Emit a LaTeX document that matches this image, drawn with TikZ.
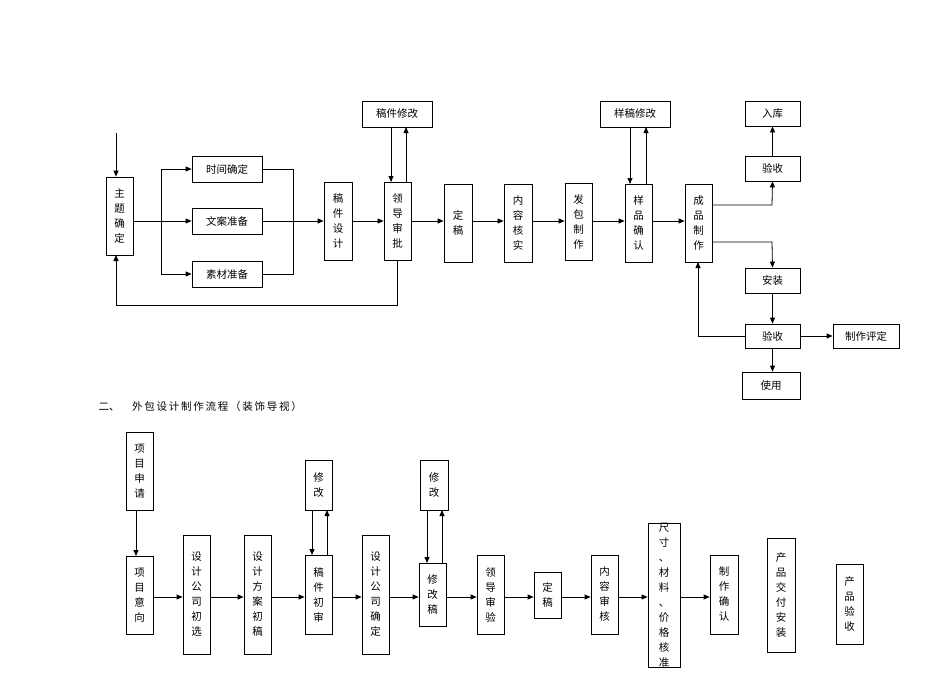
\documentclass[tikz,border=0pt]{standalone}
\usepackage{fontspec}
\setmainfont{Noto Sans CJK SC}
\usetikzlibrary{arrows.meta}
\newcommand{\bx}[6]{\node[box,minimum width={(#4-#2)*1pt},minimum height={(#5-#3)*1pt}] (#1) at ({(#2+#4)/2},{(#3+#5)/2}) {#6};}
\begin{document}
\begin{tikzpicture}[x=1pt,y=-1pt,
  box/.style={draw,line width=0.8pt,inner sep=0pt,align=center,font=\fontsize{10.5}{15}\selectfont},
  ar/.style={-{Triangle[length=6pt,width=5pt]},line width=0.8pt},
  ln/.style={line width=0.8pt}]
\useasboundingbox (0,0) rectangle (950,672);
% top
\bx{zt}{106}{177}{133}{255}{主\\题\\确\\定}
\bx{sj}{192}{156}{262}{182}{时间确定}
\bx{wa}{192}{208}{262}{234}{文案准备}
\bx{sc}{192}{261}{262}{287}{素材准备}
\bx{gjsj}{324}{182}{352}{260}{稿\\件\\设\\计}
\bx{ld}{384}{182}{411}{260}{领\\导\\审\\批}
\bx{gjxg}{362}{101}{432}{127}{稿件修改}
\bx{dg}{444}{184}{472}{262}{定\\稿}
\bx{nr}{504}{184}{532}{262}{内\\容\\核\\实}
\bx{fb}{565}{183}{592}{260}{发\\包\\制\\作}
\bx{yp}{625}{184}{652}{262}{样\\品\\确\\认}
\bx{ygxg}{600}{101}{670}{127}{样稿修改}
\bx{cp}{685}{184}{712}{262}{成\\品\\制\\作}
\bx{rk}{745}{101}{800}{126}{入库}
\bx{ys1}{745}{156}{800}{181}{验收}
\bx{az}{745}{268}{800}{293}{安装}
\bx{ys2}{745}{324}{800}{348}{验收}
\bx{pd}{833}{324}{899}{348}{制作评定}
\bx{sy}{742}{372}{800}{399}{使用}
\coordinate (in0) at (116,133);
\draw[ar] (in0) -- (in0 |- zt.north);
\coordinate (br) at (161,221);
\draw[ln] (zt.east |- br) -- (br);
\draw[ln] (sj.west -| br) -- (sc.west -| br);
\draw[ar] (sj.west -| br) -- (sj.west);
\draw[ar] (br) -- (wa.west);
\draw[ar] (sc.west -| br) -- (sc.west);
\coordinate (mg) at (293,221);
\draw[ln] (sj.east) -- (sj.east -| mg) -- (sc.east -| mg) -- (sc.east);
\draw[ar] (wa.east) -- (gjsj.west |- wa.east);
\draw[ar] (gjsj.east |- br) -- (ld.west |- br);
\draw[ar] (391,127) -- (391,182);
\draw[ar] (406,182) -- (406,127);
\draw[ar] (397,260) -- (397,305) -- (116,305) -- (116,255);
\draw[ar] (ld.east |- br) -- (dg.west |- br);
\draw[ar] (dg.east |- br) -- (nr.west |- br);
\draw[ar] (nr.east |- br) -- (fb.west |- br);
\draw[ar] (fb.east |- br) -- (yp.west |- br);
\draw[ar] (630,127) -- (630,184);
\draw[ar] (646,184) -- (646,127);
\draw[ar] (yp.east |- br) -- (cp.west |- br);
\draw[ar] (712,205) -- (772,205) -- (ys1.south);
\draw[ar] (ys1.north) -- (rk.south);
\draw[ar] (712,242) -- (772,242) -- (az.north);
\draw[ar] (az.south) -- (ys2.north);
\draw[ar] (ys2.east) -- (pd.west);
\draw[ar] (ys2.south) -- (ys2.south |- sy.north);
\draw[ar] (ys2.west) -- (698,336) -- (698,262);
% title
\node[anchor=west,font=\fontsize{10.5}{12}\selectfont] (tt) at (95,407) {二、\hspace{1.2em}外\,包\,设\,计\,制\,作\,流\,程\,（\,装\,饰\,导\,视\,）};
% bottom
\bx{xs}{126}{432}{153}{510}{项\\目\\申\\请}
\bx{xy}{126}{556}{153}{634}{项\\目\\意\\向}
\bx{cx}{183}{535}{210}{654}{设\\计\\公\\司\\初\\选}
\bx{cg}{244}{535}{271}{654}{设\\计\\方\\案\\初\\稿}
\bx{cs}{305}{555}{332}{634}{稿\\件\\初\\审}
\bx{xg1}{305}{460}{332}{510}{修\\改}
\bx{qd}{362}{535}{389}{654}{设\\计\\公\\司\\确\\定}
\bx{xgg}{419}{563}{446}{626}{修\\改\\稿}
\bx{xg2}{420}{460}{448}{510}{修\\改}
\bx{sy2}{477}{555}{504}{634}{领\\导\\审\\验}
\bx{dg2}{534}{572}{561}{618}{定\\稿}
\bx{sh}{591}{555}{618}{634}{内\\容\\审\\核}
\bx{cc}{648}{527}{680}{663}{尺\\寸\\、\\材\\料\\、\\价\\格\\核\\准}
\bx{zq}{710}{555}{738}{634}{制\\作\\确\\认}
\bx{jf}{767}{538}{795}{652}{产\\品\\交\\付\\安\\装}
\bx{yz}{836}{564}{863}{644}{产\\品\\验\\收}
\coordinate (ly) at (0,597);
\draw[ar] (136,510) -- (136,556);
\draw[ar] (xy.east |- ly) -- (cx.west |- ly);
\draw[ar] (cx.east |- ly) -- (cg.west |- ly);
\draw[ar] (cg.east |- ly) -- (cs.west |- ly);
\draw[ar] (312,510) -- (312,555);
\draw[ar] (327,555) -- (327,510);
\draw[ar] (cs.east |- ly) -- (qd.west |- ly);
\draw[ar] (qd.east |- ly) -- (xgg.west |- ly);
\draw[ar] (427,510) -- (427,563);
\draw[ar] (442,563) -- (442,510);
\draw[ar] (xgg.east |- ly) -- (sy2.west |- ly);
\draw[ar] (sy2.east |- ly) -- (dg2.west |- ly);
\draw[ar] (dg2.east |- ly) -- (sh.west |- ly);
\draw[ar] (sh.east |- ly) -- (cc.west |- ly);
\draw[ar] (cc.east |- ly) -- (zq.west |- ly);
\end{tikzpicture}
\end{document}
